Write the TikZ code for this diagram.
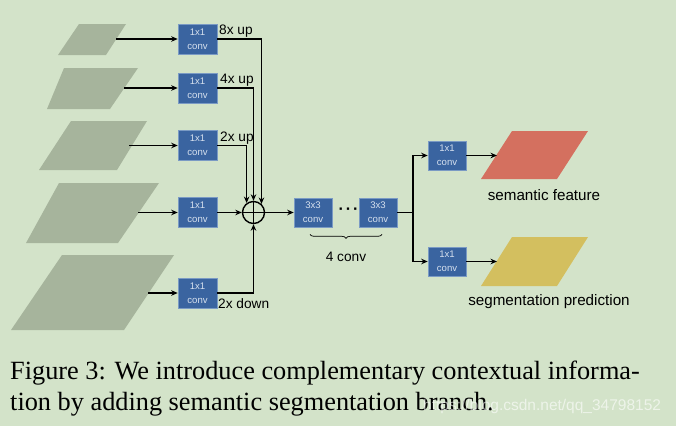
\documentclass[tikz,border=0pt]{standalone}
\usepackage{fontspec}
\setmainfont{Liberation Serif}
\setsansfont{Liberation Sans}
\usetikzlibrary{arrows.meta,decorations.pathreplacing,calc}
\definecolor{bg}{HTML}{D3E3C9}
\definecolor{featc}{HTML}{A6B49C}
\definecolor{boxc}{HTML}{3A64A0}
\definecolor{boxb}{HTML}{7A9AC4}
\definecolor{boxt}{HTML}{D6E0EE}
\definecolor{redc}{HTML}{D4705F}
\definecolor{yelc}{HTML}{D3BF5F}
\tikzset{
  featmap/.style={fill=featc, draw=none},
  convbox/.style={fill=boxc, draw=boxb, line width=0.6pt, minimum width=39pt, minimum height=30pt,
    inner sep=0pt, align=center, text=boxt, font=\sffamily\fontsize{9.6}{14}\selectfont},
  arr/.style={line width=1.4pt, -{Stealth[length=6.5pt,width=5.5pt]}},
  ln/.style={line width=1.4pt},
  lbl/.style={font=\sffamily\fontsize{13.7}{15}\selectfont, text=black, inner sep=0pt},
  biglbl/.style={font=\sffamily\fontsize{15.2}{17}\selectfont, text=black, inner sep=0pt},
  captext/.style={font=\fontsize{26.3}{30}\selectfont, anchor=base west, inner sep=0pt}
}
\begin{document}
\begin{tikzpicture}[x=1pt,y=-1pt]
\useasboundingbox[fill=bg] (0,0) rectangle (676,426);

% feature maps
\fill[featmap] (79,24) -- (126,24) -- (106,55) -- (58,55) -- cycle;
\fill[featmap] (64,68) -- (138,68) -- (110,109) -- (47,109) -- cycle;
\fill[featmap] (71,121) -- (147,121) -- (117,170) -- (39,170) -- cycle;
\fill[featmap] (59,183) -- (159,183) -- (118,243) -- (26,243) -- cycle;
\fill[featmap] (62,255) -- (174,255) -- (124,330) -- (11,330) -- cycle;

\coordinate (f1) at (116,39);
\coordinate (f2) at (124,88);
\coordinate (f3) at (129,145.5);
\coordinate (f4) at (138,212.5);
\coordinate (f5) at (148,293);

% 1x1 convs
\node[convbox] (c1) at (197.5,39) {1x1\\conv};
\node[convbox] (c2) at (197.5,88) {1x1\\conv};
\node[convbox] (c3) at (197.5,145.5) {1x1\\conv};
\node[convbox] (c4) at (197.5,212.5) {1x1\\conv};
\node[convbox] (c5) at (197.5,293) {1x1\\conv};

\foreach \i in {1,...,5} { \draw[arr] (f\i) -- (c\i.west); }

% sum
\node[circle, draw, line width=1.4pt, minimum size=22pt, inner sep=0pt] (sum) at (253.5,212.5) {};
\draw[line width=1.1pt] (sum.north) -- (sum.south) (sum.west) -- (sum.east);

\draw[arr] (c1.east) -| (sum.47);
\draw[arr] (c2.east) -| (sum.90);
\draw[arr] (c3.east) -| (sum.126);
\draw[arr] (c4.east) -- (sum.west);
\draw[arr] (c5.east) -| (sum.south);

\node[lbl, anchor=west] (l1) at (219,31) {8x up};
\node[lbl, anchor=west] (l2) at (220,80) {4x up};
\node[lbl, anchor=west] (l3) at (220,138) {2x up};
\node[lbl, anchor=west] (l5) at (218,304) {2x down};

% 3x3 convs
\node[convbox, minimum width=38pt, minimum height=29pt] (d1) at (313,212.5) {3x3\\conv};
\node[convbox, minimum width=38pt, minimum height=29pt] (d2) at (378,212.5) {3x3\\conv};
\node[font=\sffamily\bfseries\fontsize{16}{16}\selectfont, inner sep=0pt] (dots) at (348.5,211) {·\hspace{2pt}·\hspace{2pt}·};
\draw[arr] (sum.east) -- (d1.west);

\draw[decorate, decoration={brace, mirror, amplitude=4pt}, line width=0.7pt]
  ($(d1.south)+(-3,7)$) -- ($(d2.south)+(4,7)$);
\node[lbl] (four) at (346,257) {4 conv};

% split
\coordinate (split) at (413,212.5);
\draw[ln] (d2.east) -- (split);
\node[convbox, minimum width=38pt, minimum height=29pt] (e1) at (447,155.5) {1x1\\conv};
\node[convbox, minimum width=38pt, minimum height=29pt] (e2) at (447,261.5) {1x1\\conv};
\draw[arr] (split) |- (e1.west);
\draw[arr] (split) |- (e2.west);

% outputs
\fill[redc] (512,131) -- (588,131) -- (557,179) -- (481,179) -- cycle;
\fill[yelc] (512,237) -- (588,237) -- (557,286) -- (481,286) -- cycle;
\coordinate (o1) at (497,155.5);
\coordinate (o2) at (497,261.5);
\draw[arr] (e1.east) -- (o1);
\draw[arr] (e2.east) -- (o2);

\node[biglbl] (sf) at (544,195) {semantic feature};
\node[biglbl] (sp) at (549,302) {segmentation prediction};

% caption
\node[captext] (cap1) at (10,379) {Figure 3: We introduce complementary contextual informa-};
\node[captext] (cap2) at (10,410) {tion by adding semantic segmentation branch.};
\node[font=\sffamily\fontsize{15.5}{16}\selectfont, text=white, text opacity=0.6, anchor=base west, inner sep=0pt] (wm) at (423,410) {https://blog.csdn.net/qq\_34798152};
\end{tikzpicture}
\end{document}
